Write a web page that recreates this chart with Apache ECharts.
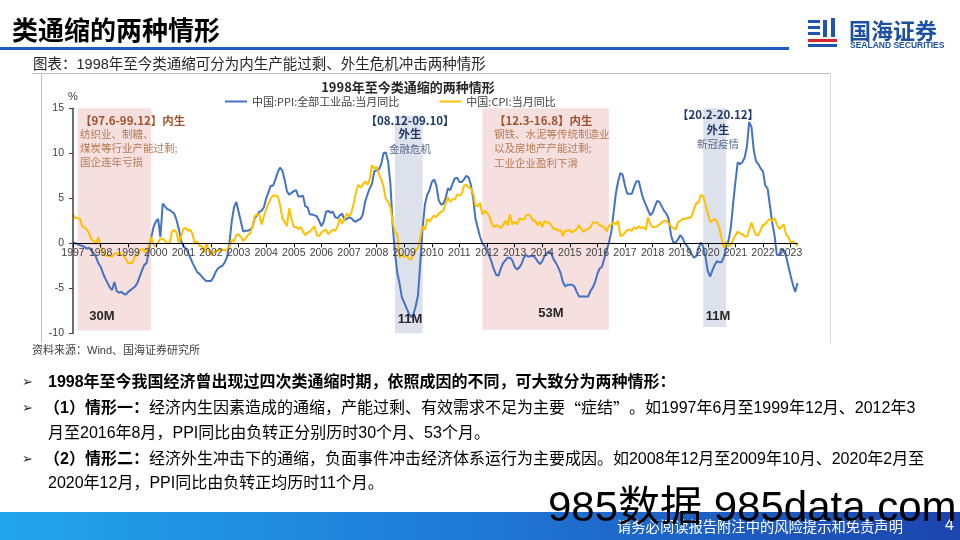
<!DOCTYPE html>
<html>
<head>
<meta charset="utf-8">
<script src="https://cdn.jsdelivr.net/npm/echarts/dist/echarts.min.js"></script>
<style>
html,body{margin:0;padding:0;background:#fff;}
#main{width:960px;height:540px;}
</style>
</head>
<body>
<div id="main"></div>
<script>
// ---- data (monthly, displayed from 1997-01) ----
const startYear = 1997;
const ppiValues = [
 0.1, 0.0, -0.1, -0.2, -0.3, -0.4, -0.6, -0.5, -0.8, -1.1, -1.5, -2.2,
 -2.6, -3.3, -3.9, -4.4, -4.9, -5.2, -4.3, -5.3, -5.5, -5.4, -5.6, -5.7,
 -5.4, -5.2, -5.0, -4.8, -4.4, -3.7, -3.0, -2.4, -2.2, -0.8, 0.6, 1.8,
 2.4, 2.7, 0.7, 4.4, 4.1, 3.8, 3.7, 3.5, 3.3, 2.6, 1.6, 0.3,
 -0.3, -0.6, -1.0, -1.6, -2.2, -2.7, -3.2, -3.4, -3.7, -4.0, -4.2, -4.2,
 -4.2, -3.8, -3.2, -2.8, -2.6, -2.5, -2.1, -1.5, 0.0, 2.4, 4.0, 4.6,
 3.5, 2.4, 1.3, 1.4, 1.4, 1.5, 1.8, 2.8, 3.1, 3.5, 3.6, 4.0,
 5.0, 5.7, 6.4, 6.4, 7.1, 7.9, 8.4, 8.1, 7.1, 5.8, 5.4, 5.6,
 5.8, 5.9, 5.2, 5.2, 5.3, 4.1, 4.0, 3.2, 3.2, 3.1, 3.0, 2.5,
 1.9, 2.4, 3.5, 3.6, 3.4, 3.5, 2.9, 2.8, 3.1, 3.3, 2.6, 2.7,
 2.9, 2.8, 2.5, 2.4, 2.6, 2.7, 3.2, 4.6, 5.4, 6.1, 6.6, 8.0,
 8.1, 8.2, 8.8, 10.0, 10.1, 9.1, 6.6, 2.0, -1.1, -3.3, -4.5, -6.0,
 -6.6, -7.2, -7.8, -8.2, -7.9, -7.0, -5.8, -2.1, 1.7, 4.3, 5.4, 5.9,
 6.8, 7.1, 6.4, 4.8, 4.3, 4.4, 5.0, 6.1, 5.9, 6.6, 7.2, 7.3,
 6.8, 6.8, 7.1, 7.5, 7.3, 6.5, 5.0, 2.7, 1.7, 0.7, 0.0, -0.3,
 -0.7, -1.4, -2.1, -2.9, -3.5, -3.6, -2.8, -2.2, -1.9, -1.6, -1.6, -1.9,
 -2.6, -2.9, -2.7, -2.3, -1.6, -1.3, -1.5, -1.4, -1.4, -1.6, -2.0, -2.3,
 -2.0, -1.4, -1.1, -0.9, -1.2, -1.8, -2.2, -2.7, -3.3, -4.3, -4.8, -4.6,
 -4.6, -4.6, -4.8, -5.4, -5.9, -5.9, -5.9, -5.9, -5.9, -5.3, -4.9, -4.3,
 -3.4, -2.8, -2.6, -1.7, -0.8, 0.1, 1.2, 3.3, 5.5, 6.9, 7.8, 7.6,
 6.4, 5.5, 5.5, 5.5, 6.3, 6.9, 6.9, 5.8, 4.9, 4.3, 3.7, 3.1,
 3.4, 4.1, 4.7, 4.6, 4.1, 3.6, 3.3, 2.7, 0.9, 0.1, 0.1, 0.4,
 0.9, 0.6, 0.0, -0.3, -0.8, -1.2, -1.6, -1.4, -0.5, 0.1, -0.4, -1.5,
 -3.1, -3.7, -3.0, -2.4, -2.0, -2.1, -2.1, -1.5, -0.4, 0.3, 1.7, 4.4,
 6.8, 9.0, 8.8, 9.0, 9.5, 10.7, 13.5, 12.9, 10.3, 9.1, 8.8, 8.3,
 8.0, 6.4, 6.1, 4.2, 2.3, 0.9, -1.3, -1.3, -0.7, -0.8, -1.4, -2.5,
 -3.6, -4.6, -5.4, -4.4
];
const cpiValues = [
 3.2, 2.8, 2.8, 2.7, 1.9, 1.8, 1.5, 1.1, 0.4, 0.3, -0.1, 0.7,
 -0.3, -1.0, -1.3, -1.4, -1.4, -1.5, -1.1, -1.2, -1.0, -1.2, -1.3, -1.8,
 -2.2, -2.2, -2.1, -1.4, -1.3, -0.8, -0.6, -0.9, -1.0, -0.2, 0.7, -0.2,
 -0.3, 0.1, 0.5, 0.5, 0.3, 0.0, 0.0, 1.3, 1.5, 1.2, 0.0, 0.8,
 1.6, 1.7, 1.4, 1.5, 1.0, -0.1, 0.2, -0.3, -0.3, -1.0, 0.0, -0.8,
 -1.3, -1.1, -0.8, -0.9, -0.7, -0.7, -0.8, -0.7, -0.4, 0.4, 0.2, 0.9,
 1.0, 0.7, 0.3, 0.5, 0.9, 1.1, 1.8, 3.0, 3.2, 3.2, 2.1, 3.0,
 3.8, 4.4, 5.0, 5.3, 5.3, 5.2, 4.3, 2.8, 2.4, 1.9, 3.9, 2.7,
 1.8, 1.8, 1.6, 1.8, 1.3, 0.9, 1.2, 1.3, 1.6, 1.9, 0.9, 0.8,
 1.2, 1.4, 1.5, 1.0, 1.3, 1.5, 1.4, 1.9, 2.8, 2.2, 2.7, 3.3,
 3.0, 3.4, 4.4, 5.6, 6.5, 6.2, 6.5, 6.9, 6.5, 7.1, 8.7, 8.3,
 8.5, 7.7, 7.1, 6.3, 4.9, 4.6, 4.0, 2.4, 1.2, 1.0, -1.6, -1.2,
 -1.5, -1.4, -1.7, -1.8, -1.2, -0.8, -0.5, 0.6, 1.9, 1.5, 2.7, 2.4,
 2.8, 3.1, 2.9, 3.3, 3.5, 3.6, 4.4, 5.1, 4.6, 4.9, 4.9, 5.4,
 5.3, 5.5, 6.4, 6.5, 6.2, 6.1, 5.5, 4.2, 4.1, 4.5, 3.2, 3.6,
 3.4, 3.0, 2.2, 1.8, 2.0, 1.9, 1.7, 2.0, 2.5, 2.0, 3.2, 2.1,
 2.4, 2.1, 2.7, 2.7, 2.6, 3.1, 3.2, 3.0, 2.5, 2.5, 2.0, 2.4,
 1.8, 2.5, 2.3, 2.3, 2.0, 1.6, 1.6, 1.4, 1.5, 0.8, 1.4, 1.4,
 1.5, 1.2, 1.4, 1.6, 2.0, 1.6, 1.3, 1.5, 1.6, 1.8, 2.3, 2.3,
 2.3, 2.0, 1.9, 1.8, 1.3, 1.9, 2.1, 2.3, 2.1, 2.5, 0.8, 0.9,
 1.2, 1.5, 1.5, 1.4, 1.8, 1.6, 1.9, 1.7, 1.8, 1.5, 2.9, 2.1,
 1.8, 1.8, 1.9, 2.1, 2.3, 2.5, 2.5, 2.2, 1.9, 1.7, 1.5, 2.3,
 2.5, 2.7, 2.7, 2.8, 2.8, 3.0, 3.8, 4.5, 4.5, 5.4, 5.2, 4.3,
 3.3, 2.4, 2.5, 2.7, 2.4, 1.7, 0.5, -0.5, 0.2, -0.3, -0.2, 0.4,
 0.9, 1.3, 1.1, 1.0, 0.8, 0.7, 1.5, 2.3, 1.5, 0.9, 0.9, 1.5,
 2.1, 2.1, 2.5, 2.7, 2.5, 2.8, 2.1, 1.6, 1.8, 2.1, 1.0, 0.7,
 0.1, 0.2, 0.0, -0.3
];
const seriesNames = ['中国:PPI:全部工业品:当月同比', '中国:CPI:当月同比'];
// shaded periods (category month at start / end) and their kind
const shadeStart = ['1997-03', '2008-09', '2011-11', '2019-11'];
const shadeEnd   = ['1999-11', '2009-09', '2016-06', '2020-09'];
const shadeKind  = ['内生', '外生', '内生', '外生'];
const shadeMonths = ['30M', '11M', '53M', '11M'];

// categories (months)
const categories = [];
for (let i = 0; i < ppiValues.length; i++) {
  const y = startYear + Math.floor(i / 12);
  const m = (i % 12) + 1;
  categories.push(y + '-' + (m < 10 ? '0' + m : '' + m));
}

const CJK = '"Noto Sans CJK SC", sans-serif';
const LAT = '"Liberation Sans", "Noto Sans CJK SC", sans-serif';
const shadeY = [[15, -9.7], [14.2, -10], [15, -9.6], [15, -9.3]];

const yMin = -10, yMax = 15;
const gridTop = 108.3, gridBottomPx = 333.3;
// pixel distance from the bottom of the grid up to the value 0
const zeroOffset = (gridBottomPx - gridTop) * (0 - yMin) / (yMax - yMin);

const chart = echarts.init(document.getElementById('main'), null, {renderer: 'canvas'});

function txt(x, y, text, size, color, weight, align, family) {
  return {
    type: 'text', x: x, y: y, z: 50,
    style: {
      text: text, fontSize: size, fill: color, fontWeight: weight || 'normal',
      fontFamily: family || CJK, align: align || 'left', verticalAlign: 'middle'
    }
  };
}

const annColorIn = '#a0522d', annSubIn = '#b77a52';
const annColorEx = '#1f3864', annSubEx = '#5b6b8c';
const richBody = {
  b: {fontSize: 16, fontWeight: 'bold', fill: '#000', fontFamily: LAT},
  q: {fontSize: 16, fill: '#000', fontFamily: CJK}
};

const elements = [
  // header
  txt(12, 30, '类通缩的两种情形', 26, '#000', 'bold'),
  {type: 'rect', z: 50, shape: {x: 0, y: 47, width: 789, height: 3}, style: {fill: '#1f5bc6'}},
  // logo icon
  {type: 'rect', z: 50, shape: {x: 808, y: 20, width: 12, height: 3}, style: {fill: '#1f55b0'}},
  {type: 'rect', z: 50, shape: {x: 808, y: 26, width: 12, height: 3}, style: {fill: '#1f55b0'}},
  {type: 'rect', z: 50, shape: {x: 808, y: 32, width: 12, height: 3}, style: {fill: '#1f55b0'}},
  {type: 'rect', z: 50, shape: {x: 823, y: 20, width: 4, height: 17}, style: {fill: '#1f55b0'}},
  {type: 'rect', z: 50, shape: {x: 831, y: 18, width: 4, height: 19}, style: {fill: '#1f55b0'}},
  {type: 'rect', z: 50, shape: {x: 808, y: 39, width: 29, height: 3}, style: {fill: '#d9262c'}},
  {type: 'rect', z: 50, shape: {x: 808, y: 44, width: 29, height: 3}, style: {fill: '#1f55b0'}},
  txt(849, 31, '国海证券', 22, '#1e50a2', 'bold'),
  txt(850, 46, 'SEALAND SECURITIES', 8.5, '#1e50a2', 'bold', 'left', LAT),
  // figure caption + frame
  txt(33, 65, '图表：1998年至今类通缩可分为内生产能过剩、外生危机冲击两种情形', 14.5, '#262626', 'normal', 'left', LAT),
  {type: 'line', z: 50, shape: {x1: 32, y1: 73.5, x2: 830, y2: 73.5}, style: {stroke: '#bfbfbf', lineWidth: 1}},
  {type: 'line', z: 50, shape: {x1: 41.5, y1: 73.5, x2: 41.5, y2: 343}, style: {stroke: '#bfbfbf', lineWidth: 1}},
  {type: 'line', z: 50, shape: {x1: 830.5, y1: 73.5, x2: 830.5, y2: 343}, style: {stroke: '#d9d9d9', lineWidth: 1}},
  // chart title
  txt(408, 87, '1998年至今类通缩的两种情形', 13, '#262626', 'bold', 'center'),
  // annotations
  txt(80, 121, '【97.6-99.12】内生', 11.5, annColorIn, 'bold'),
  txt(80, 134, '纺织业、制糖、', 10.5, annSubIn),
  txt(80, 148.5, '煤炭等行业产能过剩;', 10.5, annSubIn),
  txt(80, 162, '国企连年亏损', 10.5, annSubIn),
  txt(410, 121, '【08.12-09.10】', 11.5, annColorEx, 'bold', 'center'),
  txt(410, 134, '外生', 11.5, annColorEx, 'bold', 'center'),
  txt(410, 149, '金融危机', 10.5, annSubEx, 'normal', 'center'),
  txt(494, 121, '【12.3-16.8】内生', 11.5, annColorIn, 'bold'),
  txt(494, 134, '钢铁、水泥等传统制造业', 10.5, annSubIn),
  txt(494, 148.5, '以及房地产产能过剩;', 10.5, annSubIn),
  txt(494, 163, '工业企业盈利下滑', 10.5, annSubIn),
  txt(718, 115, '【20.2-20.12】', 11.5, annColorEx, 'bold', 'center'),
  txt(718, 130, '外生', 11.5, annColorEx, 'bold', 'center'),
  txt(718, 144, '新冠疫情', 10.5, annSubEx, 'normal', 'center'),
  txt(102, 316, shadeMonths[0], 13, '#262626', 'bold', 'center', LAT),
  txt(410, 319, shadeMonths[1], 13, '#262626', 'bold', 'center', LAT),
  txt(551, 313, shadeMonths[2], 13, '#262626', 'bold', 'center', LAT),
  txt(718, 316, shadeMonths[3], 13, '#262626', 'bold', 'center', LAT),
  // source
  txt(32, 351, '资料来源：Wind、国海证券研究所', 11, '#404040', 'normal', 'left', LAT),
  // bullets + body text
  txt(22, 383, '➢', 13, '#262626', 'normal', 'left', '"DejaVu Sans"'),
  txt(22, 409, '➢', 13, '#262626', 'normal', 'left', '"DejaVu Sans"'),
  txt(22, 460, '➢', 13, '#262626', 'normal', 'left', '"DejaVu Sans"'),
  txt(48, 383, '1998年至今我国经济曾出现过四次类通缩时期，依照成因的不同，可大致分为两种情形：', 16, '#000', 'bold', 'left', LAT),
  {
    type: 'text', x: 44, y: 409, z: 50,
    style: {
      text: '{b|（1）情形一：}经济内生因素造成的通缩，产能过剩、有效需求不足为主要{q|“}症结{q|”}。如1997年6月至1999年12月、2012年3',
      fontSize: 16, fill: '#000', fontFamily: LAT, verticalAlign: 'middle', rich: richBody
    }
  },
  txt(48, 434, '月至2016年8月，PPI同比由负转正分别历时30个月、53个月。', 16, '#000', 'normal', 'left', LAT),
  {
    type: 'text', x: 44, y: 460, z: 50,
    style: {
      text: '{b|（2）情形二：}经济外生冲击下的通缩，负面事件冲击经济体系运行为主要成因。如2008年12月至2009年10月、2020年2月至',
      fontSize: 16, fill: '#000', fontFamily: LAT, verticalAlign: 'middle', rich: richBody
    }
  },
  txt(48, 484, '2020年12月，PPI同比由负转正均历时11个月。', 16, '#000', 'normal', 'left', LAT),
  // footer
  {
    type: 'rect', z: 40, shape: {x: 0, y: 512, width: 960, height: 28},
    style: {fill: {type: 'linear', x: 0, y: 0, x2: 1, y2: 0,
      colorStops: [{offset: 0, color: '#22a5ea'}, {offset: 0.5, color: '#1f78d6'}, {offset: 1, color: '#1c44ae'}]}}
  },
  txt(617, 527, '请务必阅读报告附注中的风险提示和免责声明', 14.3, '#fff'),
  txt(945, 526, '4', 16, '#fff', 'normal', 'left', LAT),
  // watermark
  {
    type: 'text', x: 548, y: 509, z: 60,
    style: {text: '985数据 985data.com', fontSize: 42, fill: '#000', fontFamily: LAT, verticalAlign: 'middle'}
  }
];

const option = {
  animation: false,
  backgroundColor: '#fff',
  legend: {
    data: seriesNames, left: 220, top: 91, icon: 'rect', itemWidth: 22, itemHeight: 2,
    itemGap: 40, textStyle: {fontSize: 11, color: '#404040', fontFamily: CJK}
  },
  grid: {left: 73, right: 162.5, top: gridTop, bottom: 540 - gridBottomPx, containLabel: false},
  xAxis: {
    type: 'category', data: categories, boundaryGap: false, z: 3,
    offset: -zeroOffset,
    axisLine: {onZero: false, lineStyle: {color: '#000', width: 1.2}},
    axisTick: {show: true, length: 4, interval: function (i) { return i % 12 === 0; }, lineStyle: {color: '#000'}},
    axisLabel: {
      interval: function (i) { return i % 12 === 0; }, margin: 5,
      formatter: function (v) { return v.slice(0, 4); },
      fontSize: 10.5, color: '#404040', fontFamily: LAT
    },
    splitLine: {show: false}
  },
  yAxis: {
    type: 'value', min: yMin, max: yMax, interval: 5, z: 3,
    name: '%', nameLocation: 'end', nameGap: 6,
    nameTextStyle: {fontSize: 11, color: '#404040', fontFamily: LAT},
    axisLine: {show: true, lineStyle: {color: '#404040', width: 1.5}},
    axisTick: {show: true, length: 4, lineStyle: {color: '#404040'}},
    axisLabel: {fontSize: 10.5, color: '#404040', margin: 9, fontFamily: LAT},
    splitLine: {show: false}
  },
  series: [
    {
      name: seriesNames[0], type: 'line', data: ppiValues, symbol: 'none', z: 2,
      lineStyle: {color: '#4472c4', width: 2}, itemStyle: {color: '#4472c4'},
      markArea: {
        silent: true,
        data: shadeStart.map(function (s, k) {
          return [
            {xAxis: s, yAxis: shadeY[k][0], itemStyle: {color: shadeKind[k] === '内生' ? '#f6dfdf' : '#dde1ec'}},
            {xAxis: shadeEnd[k], yAxis: shadeY[k][1]}
          ];
        })
      }
    },
    {
      name: seriesNames[1], type: 'line', data: cpiValues, symbol: 'none', z: 2,
      lineStyle: {color: '#ffc000', width: 2}, itemStyle: {color: '#ffc000'}
    }
  ],
  graphic: {elements: elements}
};
chart.setOption(option);
</script>
</body>
</html>
